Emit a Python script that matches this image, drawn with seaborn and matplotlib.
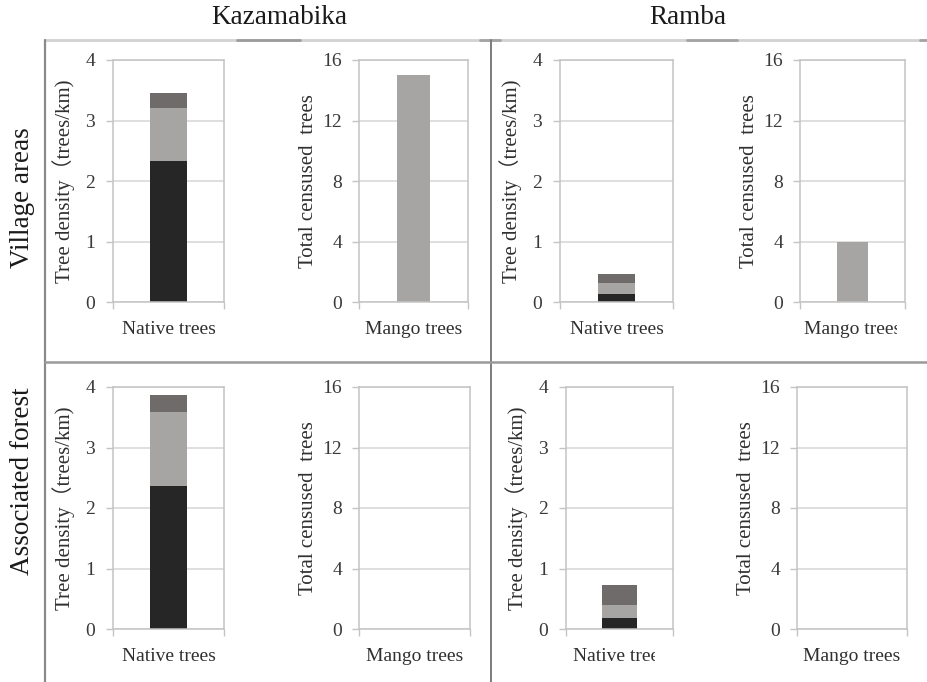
import numpy as np
import pandas as pd
import matplotlib
matplotlib.use("Agg")
import matplotlib.pyplot as plt
from matplotlib.lines import Line2D
from matplotlib.transforms import Bbox, TransformedBbox
import seaborn as sns

# ---- data -------------------------------------------------------------
sites = ["Kazamabika", "Ramba"]
habitats = ["Village areas", "Associated forest"]
native_label = "Native trees"
mango_label = "Mango trees"
density_label = "Tree density\uff08trees/km)"
count_label = "Total censused  trees"

# native tree density components (trees/km), stacked bottom -> top
# order of panels: [Kazamabika village, Ramba village, Kazamabika forest, Ramba forest]
density_black = [2.33, 0.14, 2.36, 0.19]
density_light = [0.87, 0.17, 1.22, 0.20]
density_grey = [0.25, 0.16, 0.28, 0.34]

# total censused mango trees
mango_counts = [15, 4, 0, 0]

density_ticks = [0, 1, 2, 3, 4]
count_ticks = [0, 4, 8, 12, 16]

col_black = "#262626"
col_light = "#a7a4a4"
col_grey = "#6f6b6b"

# ---- style ------------------------------------------------------------
sns.set_theme(style="white")
plt.rcParams["font.family"] = ["Liberation Serif", "Noto Sans CJK SC", "DejaVu Serif"]

W, H = 928, 682
fig = plt.figure(figsize=(W / 100, H / 100), dpi=100)


def px_axes(x1, y1, x2, y2):
    return fig.add_axes([x1 / W, 1 - y2 / H, (x2 - x1) / W, (y2 - y1) / H])


def style_box(ax, ticks, ylabel, ylabelpad, tickpad):
    ax.set_xlim(-0.5, 0.5)
    ax.set_ylim(ticks[0], ticks[-1])
    ax.set_yticks(ticks)
    ax.set_yticklabels([str(t) for t in ticks])
    ax.yaxis.grid(True, color="#d6d6d6", lw=1.1)
    ax.set_axisbelow(True)
    for s in ax.spines.values():
        s.set_visible(True)
        s.set_color("#c4c4c4")
        s.set_linewidth(1.1)
    ax.tick_params(axis="y", which="major", direction="out", length=5, width=1,
                   color="#c4c4c4", labelsize=14, labelcolor="#3a3a3a", pad=tickpad,
                   left=True)
    ax.set_xticks([-0.5, 0.5], minor=True)
    ax.tick_params(axis="x", which="minor", direction="out", length=5, width=1,
                   color="#c4c4c4", bottom=True)
    ax.tick_params(axis="x", which="major", length=0, labelsize=14,
                   labelcolor="#303030", pad=14)
    ax.set_xlabel("")
    ax.set_ylabel(ylabel, fontsize=15, color="#303030", labelpad=ylabelpad)


def clip_ticklabel(ax, right_px):
    lab = ax.get_xticklabels()[0]
    lab.set_clip_on(True)
    lab.set_clip_box(TransformedBbox(Bbox([[0, 0], [right_px / W, 1]]), fig.transFigure))


# panel boxes in pixels: (native box, mango box) per panel
layout = [
    ((113, 60, 224, 302), (359, 60, 468, 302)),
    ((560, 60, 673, 302), (800, 60, 905, 302)),
    ((113, 387, 224, 629), (359, 387, 470, 629)),
    ((566, 387, 673, 629), (797, 387, 907, 629)),
]

for i, (nbox, mbox) in enumerate(layout):
    # native trees: stacked components drawn as overlapping cumulative bars
    ax = px_axes(*nbox)
    cum = np.cumsum([density_black[i], density_light[i], density_grey[i]])
    for val, col in zip(cum[::-1], [col_grey, col_light, col_black]):
        df = pd.DataFrame({"group": [native_label], "value": [val]})
        sns.barplot(data=df, x="group", y="value", color=col, saturation=1,
                    width=0.33, ax=ax, linewidth=0)
    style_box(ax, density_ticks, density_label, 7, 8)
    if i == 3:
        clip_ticklabel(ax, 655)

    # mango trees
    ax2 = px_axes(*mbox)
    df = pd.DataFrame({"group": [mango_label], "value": [mango_counts[i]]})
    sns.barplot(data=df, x="group", y="value", color=col_light, saturation=1,
                width=0.3, ax=ax2, linewidth=0)
    style_box(ax2, count_ticks, count_label, 3, 7)
    if i == 1:
        clip_ticklabel(ax2, 897)

# ---- outer table frame ----------------------------------------------
def fline(x, y, color, lw):
    fig.add_artist(Line2D([v / W for v in x], [1 - v / H for v in y],
                          color=color, lw=lw, transform=fig.transFigure))

fline([45, 928], [40, 40], "#d2d2d2", 2.0)
fline([237, 300], [40, 40], "#9c9c9c", 2.0)
fline([687, 737], [40, 40], "#a4a4a4", 2.0)
fline([480, 500], [40, 40], "#a4a4a4", 2.0)
fline([920, 928], [40, 40], "#a4a4a4", 2.0)
fline([45, 45], [40, 682], "#8a8a8a", 1.6)
fline([491, 491], [40, 682], "#7c7c7c", 1.4)
fline([45, 928], [362, 362], "#9a9a9a", 1.8)

# column and row headers
fig.text(279 / W, 1 - 18 / H, sites[0], ha="center", va="center", fontsize=19.5, color="#1a1a1a")
fig.text(688 / W, 1 - 18 / H, sites[1], ha="center", va="center", fontsize=19.5, color="#1a1a1a")
fig.text(23 / W, 1 - 198 / H, habitats[0], ha="center", va="center", rotation=90,
         fontsize=19.5, color="#1a1a1a")
fig.text(23 / W, 1 - 481 / H, habitats[1], ha="center", va="center", rotation=90,
         fontsize=19.5, color="#1a1a1a")

fig.savefig("out.png", dpi=100)
